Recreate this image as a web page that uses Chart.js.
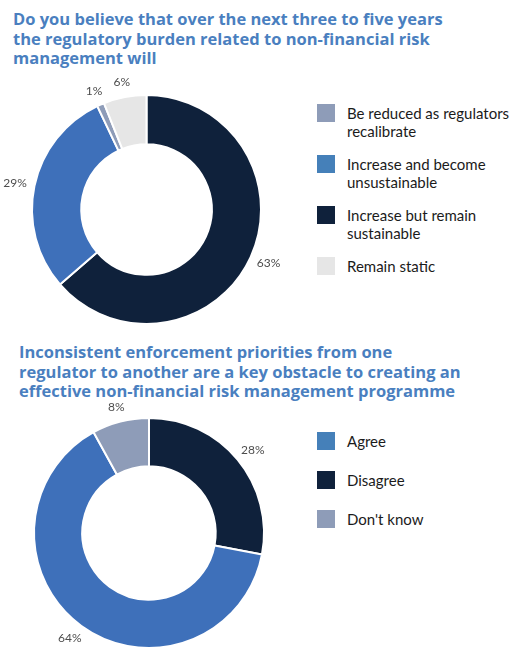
<!DOCTYPE html>
<html lang="en">

<head>
    <meta charset="UTF-8">
    <title>Regulatory burden and enforcement priorities</title>
    <script src="https://cdn.jsdelivr.net/npm/chart.js"></script>
    <style>
        body { margin: 0; background: #fff; }
        #page { position: relative; width: 530px; height: 664px; overflow: hidden; font-family: Lato, "Open Sans", sans-serif; }
        .titulo { position: absolute; color: #4a7fbf; font-family: "Open Sans", sans-serif; font-weight: 700; font-size: 16.5px; line-height: 19.5px; }
        .caja { position: absolute; }
        .leyenda { position: absolute; left: 317px; display: flex; flex-direction: column; color: #1b1b1b; font-size: 15px; line-height: 18px; }
        .item { display: flex; align-items: flex-start; }
        .cuadro { width: 18px; height: 18px; flex: none; margin-right: 12px; }
        .texto { width: 175px; }
    </style>
</head>

<body>
    <div id="page">
        <div class="titulo" style="left:13px; top:9px;">Do you believe that over the next three to five years<br>the regulatory burden related to non-financial risk<br>management will</div>
        <div class="caja" style="left:0; top:70px; width:310px; height:270px;"><canvas id="grafico1"></canvas></div>
        <div id="leyenda1" class="leyenda" style="top:104px; gap:15px;"></div>

        <div class="titulo" style="left:19px; top:342px;">Inconsistent enforcement priorities from one<br>regulator to another are a key obstacle to creating an<br>effective non-financial risk management programme</div>
        <div class="caja" style="left:0; top:395px; width:310px; height:269px;"><canvas id="grafico2"></canvas></div>
        <div id="leyenda2" class="leyenda" style="top:432px; gap:21px;"></div>
    </div>

    <script>
        // Primer gráfico (orden de los sectores, en sentido horario desde arriba)
        const categorias1 = ['Increase but remain sustainable', 'Increase and become unsustainable', 'Be reduced as regulators recalibrate', 'Remain static'];
        const valores1 = [63, 29, 1, 6];
        const colores1 = ['#0f213b', '#3e70ba', '#8e9cb8', '#e6e6e6'];
        const ordenLeyenda1 = ['Be reduced as regulators recalibrate', 'Increase and become unsustainable', 'Increase but remain sustainable', 'Remain static'];

        // Segundo gráfico
        const categorias2 = ['Disagree', 'Agree', "Don't know"];
        const valores2 = [28, 64, 8];
        const colores2 = ['#0f213b', '#3e70ba', '#8e9cb8'];
        const ordenLeyenda2 = ['Agree', 'Disagree', "Don't know"];

        // etiquetas de porcentaje fuera del anillo
        const etiquetasPct = {
            id: 'etiquetasPct',
            afterDatasetsDraw(chart) {
                const ctx = chart.ctx;
                const meta = chart.getDatasetMeta(0);
                const datos = chart.data.datasets[0].data;
                ctx.save();
                ctx.font = '12px Lato';
                ctx.fillStyle = '#4d4d4d';
                ctx.textAlign = 'center';
                ctx.textBaseline = 'middle';
                meta.data.forEach((arc, i) => {
                    const p = arc.getProps(['x', 'y', 'startAngle', 'endAngle', 'outerRadius'], true);
                    const medio = (p.startAngle + p.endAngle) / 2;
                    const txt = datos[i] + '%';
                    const w = ctx.measureText(txt).width;
                    const r = p.outerRadius + 8;
                    const x = p.x + Math.cos(medio) * (r + w / 2);
                    const y = p.y + Math.sin(medio) * (r + 7);
                    ctx.fillText(txt, x, y);
                });
                ctx.restore();
            }
        };

        function dona(id, etiquetas, valores, colores, recorte, relleno) {
            return new Chart(document.getElementById(id), {
                type: 'doughnut',
                data: {
                    labels: etiquetas,
                    datasets: [{
                        data: valores,
                        backgroundColor: colores,
                        borderColor: '#ffffff',
                        borderWidth: 2
                    }]
                },
                options: {
                    responsive: true,
                    maintainAspectRatio: false,
                    animation: false,
                    cutout: recorte,
                    layout: { padding: relleno },
                    plugins: {
                        legend: { display: false },
                        tooltip: { enabled: false }
                    }
                },
                plugins: [etiquetasPct]
            });
        }

        function leyenda(id, orden, etiquetas, colores) {
            let html = '';
            orden.forEach(nombre => {
                const c = colores[etiquetas.indexOf(nombre)];
                html += `<div class="item"><div class="cuadro" style="background:${c}"></div><div class="texto">${nombre}</div></div>`;
            });
            document.getElementById(id).innerHTML = html;
        }

        dona('grafico1', categorias1, valores1, colores1, '57%', { left: 31, right: 48, top: 24, bottom: 15 });
        dona('grafico2', categorias2, valores2, colores2, '58%', { left: 33, right: 45, top: 22, bottom: 15 });
        leyenda('leyenda1', ordenLeyenda1, categorias1, ['#0f213b', '#4580b9', '#8e9cb8', '#e6e6e6']);
        leyenda('leyenda2', ordenLeyenda2, categorias2, ['#0f213b', '#4580b9', '#8e9cb8']);
    </script>

</body>

</html>
